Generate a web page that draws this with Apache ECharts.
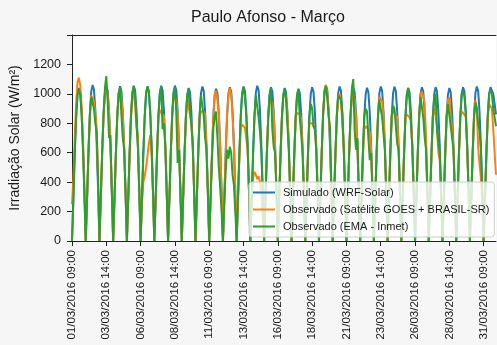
<!DOCTYPE html>
<html>
<head>
<meta charset="utf-8">
<script src="https://cdn.jsdelivr.net/npm/echarts@6/dist/echarts.min.js"></script>
<style>
html,body{margin:0;padding:0;background:#f6f6f6;}
#chart{width:497px;height:345px;}
</style>
</head>
<body>
<div id="chart"></div>
<script>
const dayNumbers = ['01','02','03','04','05','06','07','08','09','10','11','12','13','14','15','16','17','18','19','20','21','22','23','24','25','26','27','28','29','30','31'];
const hours = ['09','10','11','12','13','14','15','16','17','18'];
const monthYear = '03/2016';

const simulado = [
  0,290,595,845,995,1040,1010,875,645,340,
  0,295,605,860,1015,1060,1030,890,655,350,
  0,295,600,850,1005,1050,1020,880,650,345,
  0,295,600,852,1005,1052,1020,880,650,345,
  0,296,603,855,1010,1055,1025,885,652,347,
  0,295,600,850,1005,1050,1020,880,650,345,
  0,296,603,855,1010,1055,1025,885,652,347,
  0,296,603,856,1010,1056,1025,884,652,346,
  0,290,595,845,995,1040,1010,875,645,340,
  0,295,600,850,1005,1050,1020,880,650,345,
  0,290,590,840,990,1035,1005,870,640,340,
  0,292,598,848,1000,1045,1015,878,648,343,
  0,295,600,850,1005,1050,1020,880,650,345,
  0,296,603,855,1010,1055,1025,885,652,347,
  0,292,598,848,1000,1045,1015,878,648,343,
  0,290,595,845,995,1040,1010,875,645,340,
  0,290,590,840,990,1035,1005,870,640,340,
  0,292,598,848,1000,1045,1015,878,648,343,
  0,295,605,860,1015,1060,1030,890,655,350,
  0,295,600,850,1005,1050,1020,880,650,345,
  0,290,595,845,995,1040,1010,875,645,340,
  0,291,595,846,996,1041,1011,875,645,341,
  0,295,600,850,1005,1050,1020,880,650,345,
  0,294,600,851,1004,1049,1019,880,649,344,
  0,290,595,845,995,1040,1010,875,645,340,
  0,292,598,848,1000,1045,1015,878,648,343,
  0,293,598,847,1001,1046,1016,877,647,343,
  0,290,595,845,995,1040,1010,875,645,340,
  0,292,598,848,1000,1045,1015,878,648,343,
  0,295,600,850,1005,1050,1020,880,650,345,
  0,295,600,850,1000,1045,1050,1000,930,860
];

const satelite = [
  250,420,700,930,1080,1110,1060,920,700,380,
  0,290,600,850,990,1000,950,870,760,420,
  0,300,610,860,1000,1040,1000,880,660,350,
  0,300,600,850,1000,1040,960,850,640,340,
  0,290,590,840,980,1000,930,770,730,380,
  0,260,400,440,500,580,660,720,600,330,
  0,295,600,850,890,870,860,850,640,340,
  0,295,600,850,980,980,960,860,640,340,
  0,290,590,840,990,1000,850,810,640,340,
  0,295,600,840,880,870,880,860,640,340,
  0,290,600,850,1000,1020,960,860,640,340,
  0,295,600,850,1000,1040,1000,860,640,340,
  0,290,580,770,790,780,770,760,620,330,
  0,280,430,470,450,420,440,400,300,150,
  0,290,590,840,950,960,940,860,640,340,
  0,290,595,845,980,1000,980,870,640,340,
  0,290,590,840,870,880,860,830,640,340,
  0,292,598,800,810,800,790,760,620,330,
  0,300,610,870,1030,1060,1010,880,700,360,
  0,295,600,850,980,1000,950,800,640,340,
  0,290,595,845,980,1000,960,860,640,340,
  0,290,590,760,780,770,760,740,620,330,
  0,295,600,850,980,990,950,860,640,340,
  0,295,600,840,880,870,860,840,640,340,
  0,290,595,840,860,850,840,820,640,340,
  0,292,598,848,1000,1015,980,935,700,350,
  0,292,598,848,900,850,775,600,550,300,
  0,290,595,845,960,980,860,760,640,340,
  0,292,598,848,880,880,860,840,640,340,
  0,295,600,850,960,900,640,520,430,250,
  0,290,590,840,930,935,900,760,600,450
];

const ema = [
  0,280,590,840,990,1030,1000,860,630,330,
  0,290,600,850,980,990,900,800,740,420,
  0,300,610,870,1040,1120,950,700,720,350,
  0,295,600,850,1000,1040,860,700,620,330,
  0,295,600,855,1005,1050,980,800,640,340,
  0,295,600,850,1005,1050,1010,870,640,340,
  0,295,600,850,1000,1050,760,800,640,340,
  0,295,600,850,1000,1045,870,530,620,330,
  0,290,590,840,990,1035,900,780,660,340,
  0,295,600,850,990,1000,850,700,620,330,
  0,280,560,760,850,880,700,500,360,200,
  0,250,480,620,560,640,600,450,380,200,
  0,295,600,850,1000,1040,980,850,640,340,
  0,295,600,850,990,1000,840,740,600,320,
  0,290,590,840,990,1040,760,640,600,320,
  0,290,595,845,990,1035,960,780,620,330,
  0,290,590,840,990,1030,840,730,600,320,
  0,292,598,848,930,900,780,760,620,330,
  0,295,605,860,1010,1050,980,850,780,380,
  0,295,600,850,990,1000,960,860,640,340,
  0,300,610,870,1040,1100,750,620,700,350,
  0,290,595,845,900,880,700,550,600,320,
  0,295,600,850,960,960,840,730,620,330,
  0,295,600,850,920,900,780,660,620,330,
  0,290,595,845,995,1040,950,800,640,340,
  0,292,598,848,980,990,840,705,620,330,
  0,292,598,848,980,1000,750,665,600,320,
  0,290,595,845,930,920,780,700,620,330,
  0,292,598,848,1000,1020,980,860,640,340,
  0,295,600,850,940,900,800,750,620,330,
  0,295,600,850,1000,1030,1000,900,840,780
];

const seriesNames = ['Simulado (WRF-Solar)', 'Observado (Satélite GOES + BRASIL-SR)', 'Observado (EMA - Inmet)'];
const seriesColors = ['#1f77b4', '#ff7f0e', '#2ca02c'];
const yTicks = [0, 200, 400, 600, 800, 1000, 1200];

const categories = [];
dayNumbers.forEach(d => hours.forEach(h => categories.push(d + '/' + monthYear + ' ' + h + ':00')));

const FONT = 'Liberation Sans, Arial, sans-serif';
const TXT = '#1a1a1a';

const chart = echarts.init(document.getElementById('chart'), null, {renderer: 'canvas'});
const mk = (name, data, color) => ({
  name: name, type: 'line', data: data, showSymbol: false, symbol: 'none',
  lineStyle: {color: color, width: 2}, itemStyle: {color: color},
  emphasis: {disabled: true}
});
chart.setOption({
  animation: false,
  backgroundColor: '#f6f6f6',
  color: seriesColors,
  title: {
    text: 'Paulo Afonso - Março', left: 191, top: 10, padding: 0,
    textStyle: {fontFamily: FONT, fontSize: 16, fontWeight: 'normal', color: TXT}
  },
  grid: {left: 72, right: 1, top: 35, bottom: 104, show: true, backgroundColor: '#ffffff', borderWidth: 0},
  legend: {
    orient: 'vertical', left: 249, top: 182,
    padding: [5, 5, 5, 4], itemGap: 6, itemWidth: 22, itemHeight: 2,
    icon: 'rect',
    backgroundColor: 'rgba(255,255,255,0.8)', borderColor: '#cccccc', borderWidth: 1, borderRadius: 3,
    textStyle: {fontFamily: FONT, fontSize: 11, lineHeight: 11, color: TXT, padding: [0, 0, 0, 3]},
    data: seriesNames
  },
  xAxis: [{
    type: 'category', data: categories, boundaryGap: false,
    axisLine: {lineStyle: {color: '#222', width: 1}},
    axisTick: {interval: 24, length: 5, lineStyle: {color: '#222'}},
    axisLabel: {interval: 24, rotate: 90, margin: 9, fontFamily: FONT, fontSize: 11.5, color: TXT},
    splitLine: {show: false}
  }, {
    type: 'category', data: categories, boundaryGap: false, position: 'top',
    axisLine: {lineStyle: {color: '#222', width: 1}},
    axisTick: {show: false}, axisLabel: {show: false}, splitLine: {show: false}
  }],
  yAxis: {
    type: 'value', min: 0, max: 1400, interval: 200,
    name: 'Irradiação Solar (W/m²)', nameLocation: 'middle', nameGap: 46,
    nameTextStyle: {fontFamily: FONT, fontSize: 14, color: TXT},
    axisLine: {show: true, lineStyle: {color: '#222', width: 1}},
    axisTick: {show: true, length: 5, lineStyle: {color: '#222'}},
    axisLabel: {
      margin: 11, fontFamily: FONT, fontSize: 12.5, color: TXT,
      formatter: v => (yTicks.indexOf(v) >= 0 ? String(v) : '')
    },
    splitLine: {show: false}
  },
  series: [
    mk(seriesNames[0], simulado, seriesColors[0]),
    mk(seriesNames[1], satelite, seriesColors[1]),
    mk(seriesNames[2], ema, seriesColors[2])
  ]
});
</script>
</body>
</html>
